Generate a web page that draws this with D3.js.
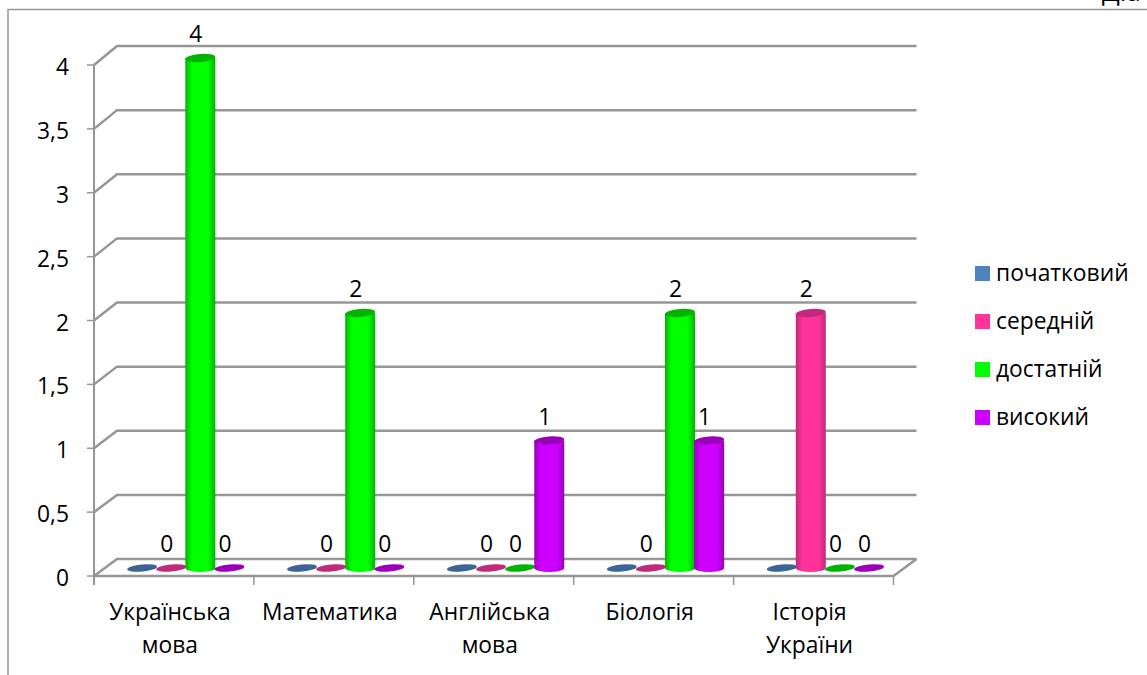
<!DOCTYPE html>
<html><head><meta charset="utf-8">
<script src="https://cdnjs.cloudflare.com/ajax/libs/d3/7.8.5/d3.min.js"></script>
<style>html,body{margin:0;background:#fff}svg{display:block}text{font-family:"Open Sans","Noto Sans",sans-serif;fill:#000}</style>
</head><body><div id="c"></div>
<script>
const categories = [["Українська","мова"],["Математика"],["Англійська","мова"],["Біологія"],["Історія","України"]];
const seriesNames = ["початковий","середній","достатній","високий"];
const seriesColors = ["#4f81bd","#ff3399","#00ff00","#cc00ff"];
const edgeColors = ["#3a6596","#c02a7c","#00b400","#9a00b8"];
const seriesShowsLabels = [false,true,true,true];
const yTicks = [0,0.5,1,1.5,2,2.5,3,3.5,4];
const valuesA = [0,0,0,0,0];
const valuesB = [0,0,0,0,2];
const valuesC = [4,2,0,2,0];
const valuesD = [0,0,1,1,0];
const table = [valuesA,valuesB,valuesC,valuesD];
const W=1147,H=675,FS=22.8;
const svg=d3.select("#c").append("svg").attr("width",W).attr("height",H);
const grey="#969696";
const defs=svg.append("defs");
seriesColors.forEach((c,i)=>{
  const g=defs.append("linearGradient").attr("id","cyl"+i);
  [[0,edgeColors[i]],[.22,c],[.75,c],[1,edgeColors[i]]].forEach(s=>g.append("stop").attr("offset",s[0]).attr("stop-color",s[1]));
});
svg.append("path").attr("d",`M8,675V9.5H${W}`).attr("fill","none").attr("stroke",grey).attr("stroke-width",1.5);
svg.append("text").attr("x",1102).attr("y",1).attr("font-size",26).text("Діа");
const x=d3.scaleBand().domain(d3.range(5)).range([94,893.5]);
const xs=d3.scaleBand().domain(d3.range(4)).range([0,116.5]);
const yFront=d3.scaleLinear().domain([0,4]).range([576,65]);
const yBack=d3.scaleLinear().domain([0,4]).range([559,46]);
const yBar=d3.scaleLinear().domain([0,4]).range([568,58]);
const dx=23;
const line=svg.append("g").attr("fill","none").attr("stroke",grey).attr("stroke-width",2.5);
yTicks.forEach(t=>{
  line.append("path").attr("d",`M${x.range()[0]},${yFront(t)}L${x.range()[0]+dx},${yBack(t)}H${x.range()[1]+dx}`);
  line.append("line").attr("x1",87).attr("x2",94).attr("y1",yFront(t)).attr("y2",yFront(t)).attr("stroke-width",1.5);
});
line.append("line").attr("x1",94).attr("x2",94).attr("y1",65).attr("y2",585).attr("stroke-width",2);
line.append("path").attr("d",`M94,576H893.5L${893.5+dx},559`);
[0,1,2,3,4,5].forEach(i=>line.append("line").attr("x1",94+i*x.bandwidth()).attr("x2",94+i*x.bandwidth()).attr("y1",576).attr("y2",585).attr("stroke-width",1.5));
svg.append("g").selectAll("text").data(yTicks).join("text").attr("x",69).attr("y",d=>yFront(d)+10).attr("text-anchor","end").attr("font-size",FS)
  .text(d=>String(d).replace(".",","));
const catG=svg.append("g").selectAll("text").data(categories).join("text").attr("text-anchor","middle").attr("font-size",FS);
catG.each(function(d,i){
  d.forEach((l,j)=>d3.select(this).append("tspan").attr("x",x(i)+x.bandwidth()/2-4).attr("y",620+j*33).text(l));
});
const marks=svg.append("g"), labels=svg.append("g");
categories.forEach((c,ci)=>{
  table.forEach((vals,si)=>{
    const v=vals[ci];
    const cx=x(ci)+xs(si)+xs.bandwidth()/2+33.5;
    const y0=yBar(0),y1=yBar(v);
    if(v===0){
      marks.append("ellipse").attr("cx",cx).attr("cy",y0).attr("rx",15).attr("ry",3.5).attr("fill",edgeColors[si])
        .attr("transform",`rotate(-5 ${cx} ${y0})`);
    } else {
      marks.append("path").attr("d",`M${cx-15},${y1}V${y0}A15,4 0 0 0 ${cx+15},${y0}V${y1}Z`).attr("fill",`url(#cyl${si})`);
      marks.append("ellipse").attr("cx",cx).attr("cy",y1).attr("rx",15).attr("ry",4).attr("fill",edgeColors[si]).attr("transform",`rotate(-5 ${cx} ${y1})`);
    }
    if(seriesShowsLabels[si]) labels.append("text").attr("x",cx-4.5).attr("y",y1-16).attr("text-anchor","middle").attr("font-size",FS).text(v);
  });
});
const ly=d3.scaleLinear().domain([0,3]).range([266,410]);
const lg=svg.append("g").selectAll("g").data(seriesNames).join("g").attr("transform",(d,i)=>`translate(975,${ly(i)})`);
lg.append("rect").attr("width",15).attr("height",15).attr("fill",(d,i)=>seriesColors[i]);
lg.append("text").attr("x",21).attr("y",15).attr("font-size",FS).text(d=>d);
</script></body></html>
